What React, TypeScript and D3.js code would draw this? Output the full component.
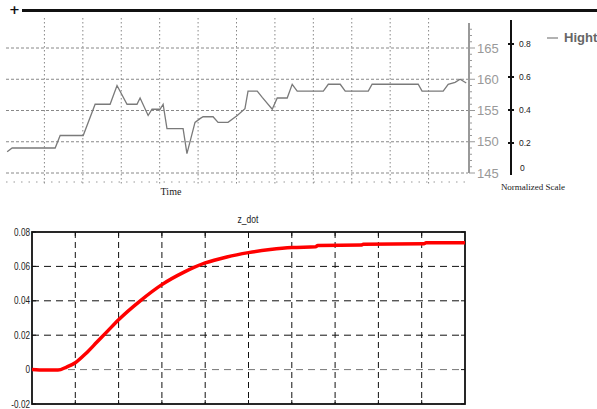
import React from "react";
import * as d3 from "d3";

// ---------- Top chart data ----------
const hightTime = [0.03, 0.16, 1.28, 1.41, 2.01, 2.32, 2.71, 2.89, 3.15, 3.41, 3.49, 3.7, 3.8, 4.01, 4.09, 4.19, 4.61, 4.71, 4.92, 5.05, 5.13, 5.39, 5.52, 5.78, 6.02, 6.22, 6.3, 6.54, 6.67, 6.93, 7.06, 7.32, 7.45, 7.58, 8.26, 8.39, 8.7, 8.83, 9.43, 9.53, 10.73, 10.83, 11.38, 11.51, 11.69, 11.82, 11.98];
const hightValue = [148.4, 149.0, 149.0, 151.0, 151.0, 156.0, 156.0, 159.0, 156.0, 156.0, 157.0, 154.2, 155.2, 155.2, 156.0, 152.1, 152.1, 148.1, 153.1, 153.7, 154.0, 154.0, 153.1, 153.1, 154.2, 155.3, 158.1, 158.1, 157.1, 155.2, 157.0, 157.0, 159.2, 158.1, 158.1, 159.2, 159.2, 158.1, 158.1, 159.2, 159.2, 158.1, 158.1, 159.2, 159.5, 160.0, 159.4];
const hightTicks = [145, 150, 155, 160, 165];
const normTicks = [0, 0.2, 0.4, 0.6, 0.8];
const timeGrid = [1, 2, 3, 4, 5, 6, 7, 8, 9, 10, 11];

// ---------- Bottom chart data ----------
const zTime = [0, 0.3, 0.6, 0.8, 1.0, 1.25, 1.5, 1.75, 2.0, 2.5, 3.0, 3.5, 4.0, 4.5, 5.0, 5.5, 6.0, 6.55, 6.6, 7.6, 7.65, 9.05, 9.1, 10];
const zValue = [0, -0.0003, -0.0003, 0.0015, 0.004, 0.0095, 0.016, 0.0225, 0.029, 0.04, 0.0494, 0.0565, 0.062, 0.0655, 0.068, 0.0698, 0.071, 0.0714, 0.0722, 0.0724, 0.0729, 0.0731, 0.0737, 0.0738];
const zYTicks = [-0.02, 0, 0.02, 0.04, 0.06, 0.08];
const zXTicks = [1, 2, 3, 4, 5, 6, 7, 8, 9];

export default function App() {
  const tx = d3.scaleLinear().domain([0, 12]).range([6, 467]);
  const ty = d3.scaleLinear().domain([145, 165]).range([173, 48]);
  const ny = d3.scaleLinear().domain([0, 0.8]).range([176, 44]);
  const topLine = d3
    .line<number>()
    .x((_, i) => tx(hightTime[i]))
    .y((d) => ty(d));

  const bx = d3.scaleLinear().domain([0, 10]).range([32, 465]);
  const by = d3.scaleLinear().domain([-0.02, 0.08]).range([404, 232]);
  const zLine = d3
    .line<number>()
    .x((_, i) => bx(zTime[i]))
    .y((d) => by(d))
    .curve(d3.curveMonotoneX);

  const minor = d3.range(145, 169, 1);
  const narrow = "Liberation Sans Narrow, Liberation Sans, Arial";

  return (
    <svg
      width={597}
      height={409}
      style={{ position: "absolute", left: 0, top: 0, background: "#fff" }}
    >
      {/* ===== top chart ===== */}
      <text x={9} y={14} fontSize={13} fontWeight="bold" fontFamily="DejaVu Sans" fill="#111">+</text>
      <line x1={22} x2={597} y1={10.5} y2={10.5} stroke="#111" strokeWidth={3} />

      {timeGrid.map((t) => (
        <line key={"vg" + t} x1={tx(t)} x2={tx(t)} y1={18} y2={185} stroke="#888" strokeWidth={1} strokeDasharray="1.5,2.5" />
      ))}
      {hightTicks.map((v) => (
        <line key={"hg" + v} x1={6} x2={468} y1={ty(v)} y2={ty(v)} stroke="#888" strokeWidth={1} strokeDasharray="3,2" />
      ))}
      <line x1={6} x2={470} y1={182} y2={182} stroke="#999" strokeWidth={1.2} strokeDasharray="1.5,6" />

      <path d={topLine(hightValue) || ""} fill="none" stroke="#7a7a7a" strokeWidth={1.3} />

      <line x1={469} x2={469} y1={23} y2={ty(145)} stroke="#999" strokeWidth={2} />
      {minor.map((v) => (
        <line key={"mt" + v} x1={469} x2={v % 5 === 0 ? 475 : 472} y1={ty(v)} y2={ty(v)} stroke="#999" strokeWidth={1} />
      ))}
      {hightTicks.map((v) => (
        <text key={"hl" + v} x={477} y={ty(v)} dy="0.36em" fontSize={13} fontFamily="Liberation Sans" fill="#999">
          {v}
        </text>
      ))}

      <line x1={511} x2={511} y1={20} y2={175} stroke="#111" strokeWidth={2} />
      {normTicks.filter((v) => v > 0).map((v) => (
        <line key={"nt" + v} x1={508} x2={514} y1={ny(v)} y2={ny(v)} stroke="#111" strokeWidth={2} />
      ))}
      {normTicks.map((v) => (
        <text key={"nl" + v} x={v === 0 ? 520 : 519} y={ny(v) + (v === 0 ? -8 : 0)} dy="0.36em" fontSize={8.5} fontFamily="Liberation Sans" fill="#222">
          {String(v)}
        </text>
      ))}
      <text x={533} y={190} textAnchor="middle" fontSize={9} fontFamily="Liberation Serif" fill="#222">Normalized Scale</text>

      <line x1={547} x2={558} y1={38} y2={38} stroke="#888" strokeWidth={1.3} />
      <text x={564} y={42} fontSize={13} fontWeight="bold" fontFamily="Liberation Sans" fill="#666">Hight</text>

      <text x={171} y={195} textAnchor="middle" fontSize={10} fontFamily="Liberation Serif" fill="#222">Time</text>

      {/* ===== bottom chart ===== */}
      <text transform="translate(248,223) scale(0.85,1)" textAnchor="middle" fontSize={10} fontFamily={narrow} fill="#222">z_dot</text>
      {zXTicks.map((t) => (
        <line key={"bx" + t} x1={bx(t)} x2={bx(t)} y1={232} y2={404} stroke="#111" strokeWidth={1} strokeDasharray="6,4" />
      ))}
      {zYTicks.filter((v) => v > -0.02 && v < 0.08).map((v) => (
        <line key={"by" + v} x1={32} x2={465} y1={by(v)} y2={by(v)} stroke={v === 0 ? "#777" : "#111"} strokeWidth={1} strokeDasharray="7,5" />
      ))}
      {zXTicks.map((t) => (
        <g key={"xt" + t}>
          <line x1={bx(t)} x2={bx(t)} y1={232} y2={236} stroke="#111" />
          <line x1={bx(t)} x2={bx(t)} y1={400} y2={404} stroke="#111" />
        </g>
      ))}
      {zYTicks.map((v) => (
        <g key={"yt" + v}>
          <line x1={32} x2={36} y1={by(v)} y2={by(v)} stroke="#111" />
          <line x1={461} x2={465} y1={by(v)} y2={by(v)} stroke="#111" />
        </g>
      ))}
      <rect x={32} y={232} width={433} height={172} fill="none" stroke="#111" strokeWidth={1.8} />
      {zYTicks.map((v) => (
        <text key={"yl" + v} transform={`translate(30,${by(v)}) scale(0.82,1)`} dy="0.36em" textAnchor="end" fontSize={10} fontFamily={narrow} fill="#222">
          {String(v)}
        </text>
      ))}
      <path d={zLine(zValue) || ""} fill="none" stroke="#ff0000" strokeWidth={3.5} strokeLinejoin="round" />
    </svg>
  );
}
